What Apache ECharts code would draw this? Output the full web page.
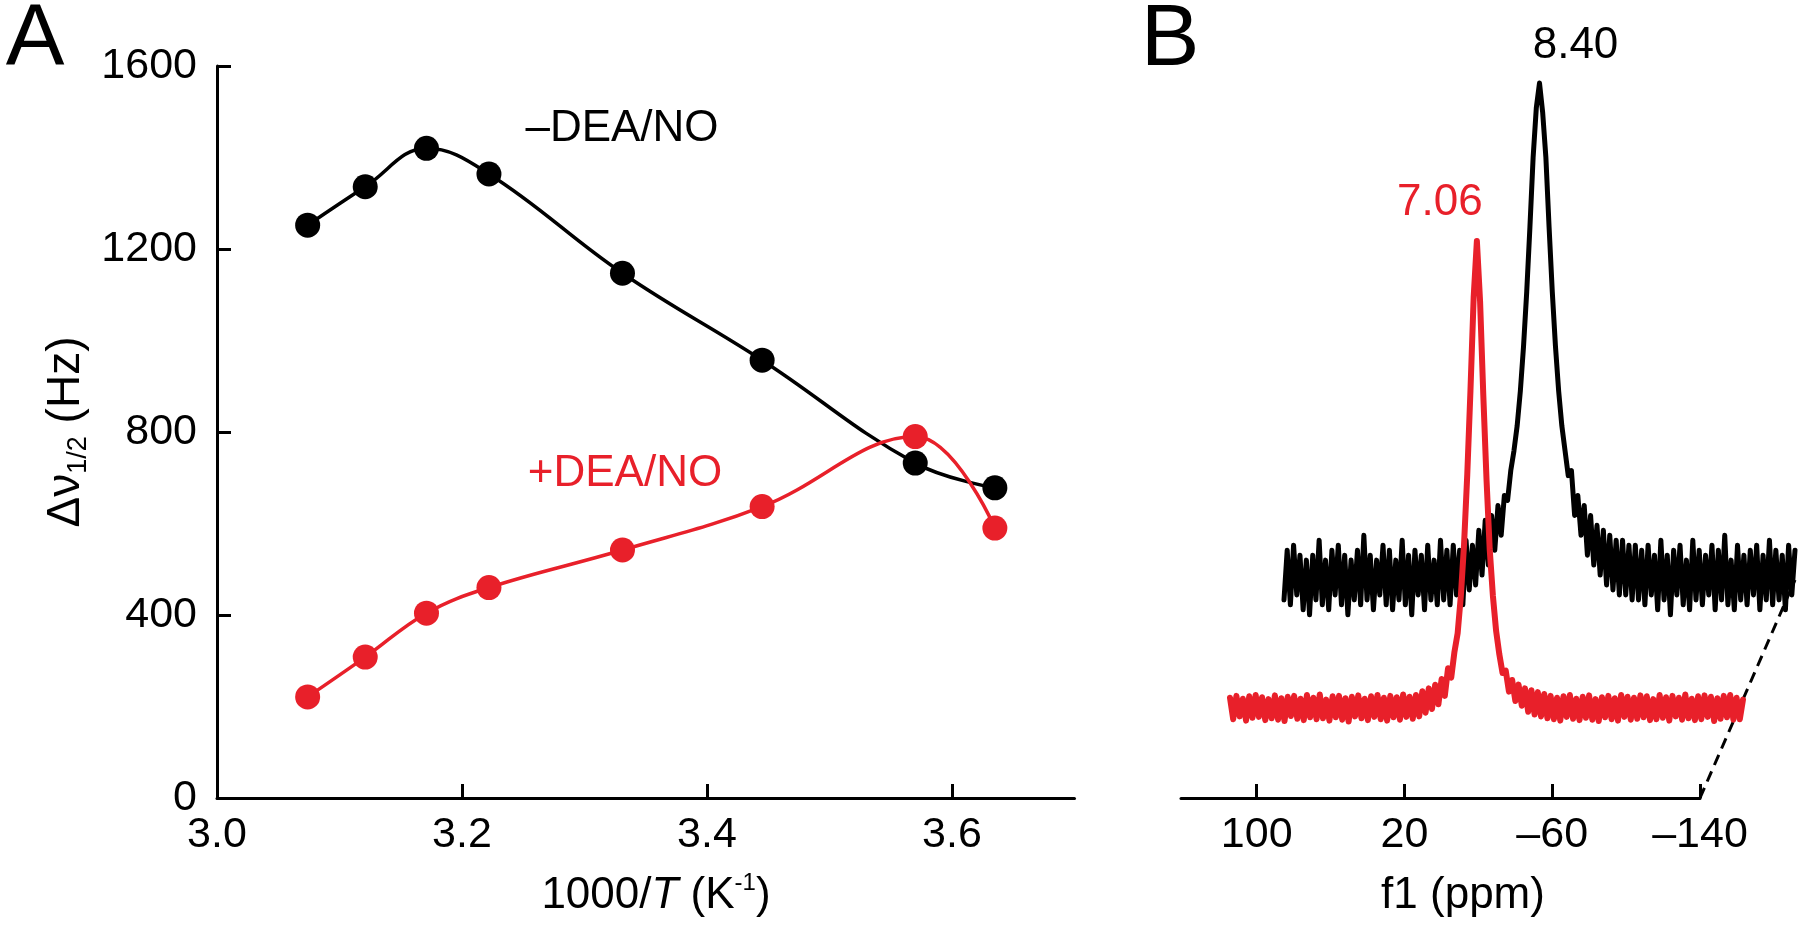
<!DOCTYPE html>
<html>
<head>
<meta charset="utf-8">
<script src="https://cdn.jsdelivr.net/npm/echarts@6/dist/echarts.min.js"></script>
<style>
html, body { margin: 0; padding: 0; background: #ffffff; }
#chart { width: 1800px; height: 926px; }
</style>
</head>
<body>
<div id="chart"></div>
<script>
// ---------- Panel A data ----------
const invTemp = [3.074, 3.121, 3.171, 3.222, 3.331, 3.445, 3.570, 3.635];   // 1000/T (K^-1)
const widthMinusDEANO = [1252, 1336, 1420, 1364, 1147, 957, 732, 678];      // Δν1/2 (Hz), –DEA/NO
const widthPlusDEANO = [221, 308, 404, 460, 542, 637, 790, 590];            // Δν1/2 (Hz), +DEA/NO
const xTicksA = [3.0, 3.2, 3.4, 3.6];
const yTicksA = [0, 400, 800, 1200, 1600];

// ---------- Panel B data ----------
const ppmTicks = [100, 20, -60, -140];
const peakLabels = ['8.40', '7.06'];
// –DEA/NO spectrum (relative intensity, baseline 0, peak 100)
const spectrumMinus = [
  -4, 6, -5, 7, -3, 5, -6, 4, -7, 5,
  -4, 8, -5, 4, -6, 6, -3, 7, -5, 5,
  -7, 4, -4, 6, -5, 9, -4, 5, -6, 4,
  -3, 7, -5, 6, -6, 4, -4, 8, -5, 5,
  -7, 6, -3, 5, -6, 7, -4, 4, -5, 8,
  -4, 6, -5, 7, -3, 6, -5, 8, -2, 7,
  -1, 10, 1, 12, 3, 13, 6, 15, 9, 17,
  16, 22, 26, 31, 38, 47, 58, 71, 85, 95,
  100,
  94, 85, 71, 58, 47, 38, 31, 26, 21,
  22, 13, 17, 9, 15, 5, 13, 3, 11, 1,
  10, -1, 9, -2, 8, -3, 8, -3, 7, -4, 7,
  -4, 6, -5, 7, -3, 5, -6, 8, -4, 5,
  -7, 6, -3, 7, -5, 4, -6, 8, -4, 6,
  -5, 5, -3, 7, -6, 6, -4, 9, -5, 4,
  -6, 7, -4, 5, -5, 6, -3, 7, -6, 5,
  -4, 8, -5, 6, -4, 5, -6, 7, -3, 6
];
// +DEA/NO spectrum (relative intensity, baseline 0, peak 100)
const spectrumPlus = [
  2.2, -2.4, 2.6, -1.8, 2.0, -2.7, 2.5, -2.1, 2.8, -1.9,
  2.3, -2.6, 1.9, -2.2, 2.7, -2.5, 2.1, -2.8, 2.4, -1.7,
  2.6, -2.3, 2.0, -2.6, 2.8, -2.0, 2.2, -2.4, 2.9, -2.2,
  1.8, -2.7, 2.5, -2.0, 2.6, -2.5, 2.1, -2.9, 2.4, -1.8,
  2.7, -2.2, 2.0, -2.6, 2.5, -1.9, 2.8, -2.4, 2.2, -2.7,
  2.6, -2.0, 2.3, -2.5, 2.9, -1.9, 2.4, -2.3, 2.8, -1.8,
  3.6, -1.0, 4.2, -0.2, 5.0, 0.8, 6.2, 2.6, 8.5, 6.5,
  12, 16, 24, 35, 50, 68, 88, 100, 87, 67,
  49, 34, 24, 16.5, 11.5, 7.5, 8, 3.5, 6, 1.5,
  5, 0.5, 4.2, -0.8, 3.8, -1.4, 3.4, -1.8, 3, -2.2,
  2.6, -2.4, 2.2, -2.7, 2.5, -1.9, 2.8, -2.3, 2.0, -2.6,
  2.4, -2.1, 2.7, -2.5, 1.9, -2.8, 2.3, -2.0, 2.6, -2.4,
  2.1, -2.7, 2.8, -1.9, 2.4, -2.5, 2.2, -2.3, 2.7, -2.0,
  2.5, -2.6, 1.9, -2.4, 2.8, -2.1, 2.3, -2.7, 2.6, -1.8,
  2.2, -2.5, 2.9, -2.2, 2.0, -2.6, 2.5, -2.4, 2.7, -1.9,
  2.4, -2.8, 2.1, -2.3, 2.6, -2.0, 2.8, -2.5, 2.2, -2.4,
  1.8
];

const RED = '#E8202A';
const BLACK = '#000000';
const FONT = '"Liberation Sans", Arial, Helvetica, sans-serif';

const chart = echarts.init(document.getElementById('chart'), null, { renderer: 'canvas' });

const axisLineStyle = { color: BLACK, width: 3 };
const minusFmt = v => (v < 0 ? '\u2013' + Math.abs(v) : String(v));

const option = {
  animation: false,
  backgroundColor: '#ffffff',
  textStyle: { fontFamily: FONT },
  grid: [
    { left: 217, top: 66, width: 857.5, height: 732, outerBoundsMode: 'none' },   // A
    { left: 1181, top: 66, width: 519, height: 732, outerBoundsMode: 'none' },   // B axis
    { left: 1284, top: 83, width: 511, height: 596.4, outerBoundsMode: 'none' }, // B –DEA/NO trace
    { left: 1230, top: 241, width: 513, height: 560.4, outerBoundsMode: 'none' } // B +DEA/NO trace
  ],
  xAxis: [
    {
      gridIndex: 0, type: 'value', min: 3.0, max: 3.7,
      axisLine: { show: true, lineStyle: axisLineStyle },
      axisTick: { show: true, inside: true, length: 14, customValues: xTicksA, lineStyle: axisLineStyle },
      axisLabel: { customValues: xTicksA, formatter: v => v.toFixed(1), fontSize: 43, color: BLACK, margin: 16, fontFamily: FONT },
      splitLine: { show: false }
    },
    {
      gridIndex: 1, type: 'value', inverse: true, min: -140, max: 141,
      axisLine: { show: true, lineStyle: axisLineStyle },
      axisTick: { show: true, inside: true, length: 14, customValues: ppmTicks, lineStyle: axisLineStyle },
      axisLabel: { customValues: ppmTicks, formatter: minusFmt, fontSize: 43, color: BLACK, margin: 16, fontFamily: FONT },
      splitLine: { show: false }
    },
    { gridIndex: 2, type: 'category', boundaryGap: false, show: false, data: spectrumMinus.map((_, i) => i) },
    { gridIndex: 3, type: 'category', boundaryGap: false, show: false, data: spectrumPlus.map((_, i) => i) }
  ],
  yAxis: [
    {
      gridIndex: 0, type: 'value', min: yTicksA[0], max: yTicksA[yTicksA.length - 1], interval: 400,
      axisLine: { show: true, lineStyle: axisLineStyle },
      axisTick: { show: true, inside: true, length: 14, customValues: yTicksA, lineStyle: axisLineStyle },
      axisLabel: { customValues: yTicksA, formatter: v => String(v), fontSize: 43, color: BLACK, margin: 20, fontFamily: FONT },
      splitLine: { show: false }
    },
    { gridIndex: 1, type: 'value', min: 0, max: 1, show: false },
    { gridIndex: 2, type: 'value', min: -20, max: 100, show: false },
    { gridIndex: 3, type: 'value', min: -20, max: 100, show: false }
  ],
  series: [
    {
      name: '–DEA/NO', type: 'line', xAxisIndex: 0, yAxisIndex: 0,
      data: invTemp.map((x, i) => [x, widthMinusDEANO[i]]),
      smooth: 0.4, symbol: 'circle', symbolSize: 25,
      lineStyle: { color: BLACK, width: 3.5 }, itemStyle: { color: BLACK }, z: 3
    },
    {
      name: '+DEA/NO', type: 'line', xAxisIndex: 0, yAxisIndex: 0,
      data: invTemp.map((x, i) => [x, widthPlusDEANO[i]]),
      smooth: 0.4, symbol: 'circle', symbolSize: 25,
      lineStyle: { color: RED, width: 3.5 }, itemStyle: { color: RED }, z: 4
    },
    {
      name: 'spec –DEA/NO', type: 'line', xAxisIndex: 2, yAxisIndex: 2,
      data: spectrumMinus, symbol: 'none', clip: false,
      lineStyle: { color: BLACK, width: 5, join: 'round', cap: 'round' },
      markPoint: {
        symbol: 'circle', symbolSize: 1, itemStyle: { color: 'rgba(0,0,0,0)' },
        label: { show: true, formatter: peakLabels[0], position: 'inside', offset: [36, -37],
                 fontSize: 44, color: BLACK, fontFamily: FONT },
        data: [{ type: 'max' }]
      },
      z: 3
    },
    {
      name: 'spec +DEA/NO', type: 'line', xAxisIndex: 3, yAxisIndex: 3,
      data: spectrumPlus, symbol: 'none', clip: false,
      lineStyle: { color: RED, width: 6, join: 'round', cap: 'round' },
      markPoint: {
        symbol: 'circle', symbolSize: 1, itemStyle: { color: 'rgba(0,0,0,0)' },
        label: { show: true, formatter: peakLabels[1], position: 'inside', offset: [-37, -38],
                 fontSize: 44, color: RED, fontFamily: FONT },
        data: [{ type: 'max' }]
      },
      z: 4
    }
  ],
  graphic: {
    elements: [
      { id: 'lblA', type: 'text', x: 35, y: 41, style: { text: 'A', fontSize: 88, fontFamily: FONT, fill: BLACK, align: 'center', verticalAlign: 'middle' } },
      { id: 'lblB', type: 'text', x: 1170, y: 41, style: { text: 'B', fontSize: 88, fontFamily: FONT, fill: BLACK, align: 'center', verticalAlign: 'middle' } },
      { id: 'lblMinus', type: 'text', x: 622, y: 129, z: 10, style: { text: '\u2013DEA/NO', fontSize: 44, fontFamily: FONT, fill: BLACK, align: 'center', verticalAlign: 'middle' } },
      { id: 'lblPlus', type: 'text', x: 625, y: 474, z: 10, style: { text: '+DEA/NO', fontSize: 44, fontFamily: FONT, fill: RED, align: 'center', verticalAlign: 'middle' } },
      {
        id: 'xTitleA', type: 'text', x: 656, y: 896,
        style: {
          text: '{a|1000/}{i|T}{a| (K}{s|-1}{a|)}', align: 'center', verticalAlign: 'middle', fill: BLACK,
          fontSize: 44, fontFamily: FONT,
          rich: {
            a: { fontSize: 44, fontFamily: FONT, fill: BLACK, color: BLACK, lineHeight: 50 },
            i: { fontSize: 44, fontFamily: FONT, fontStyle: 'italic', fill: BLACK, color: BLACK, lineHeight: 50 },
            s: { fontSize: 24, fontFamily: FONT, fill: BLACK, color: BLACK, verticalAlign: 'top', lineHeight: 30 }
          }
        }
      },
      {
        id: 'yTitleA', type: 'text', x: 66, y: 432, rotation: Math.PI / 2,
        style: {
          text: '{a|\u0394\u03bd}{s|1/2}{a| (Hz)}', align: 'center', verticalAlign: 'middle', fill: BLACK,
          fontSize: 46, fontFamily: FONT,
          rich: {
            a: { fontSize: 46, fontFamily: FONT, fill: BLACK, color: BLACK, lineHeight: 52 },
            s: { fontSize: 27, fontFamily: FONT, fill: BLACK, color: BLACK, verticalAlign: 'bottom', lineHeight: 30 }
          }
        }
      },
      { id: 'xTitleB', type: 'text', x: 1463, y: 896, style: { text: 'f1 (ppm)', fontSize: 44, fontFamily: FONT, fill: BLACK, align: 'center', verticalAlign: 'middle' } }
    ]
  }
};

chart.setOption(option);

// Dashed perspective guide: from the end of the ppm axis to the end of the back (–DEA/NO) trace
const pAxisEnd = chart.convertToPixel({ xAxisIndex: 1, yAxisIndex: 1 }, [ppmTicks[ppmTicks.length - 1], 0]);
const pBackEnd = chart.convertToPixel({ xAxisIndex: 2, yAxisIndex: 2 }, [spectrumMinus.length - 1, 0]);
chart.setOption({
  graphic: {
    elements: [{
      id: 'dash', type: 'line', z: 1,
      shape: { x1: pAxisEnd[0], y1: pAxisEnd[1], x2: pBackEnd[0], y2: pBackEnd[1] },
      style: { stroke: BLACK, lineWidth: 3, lineDash: [11, 7] }
    }]
  }
});
</script>
</body>
</html>
